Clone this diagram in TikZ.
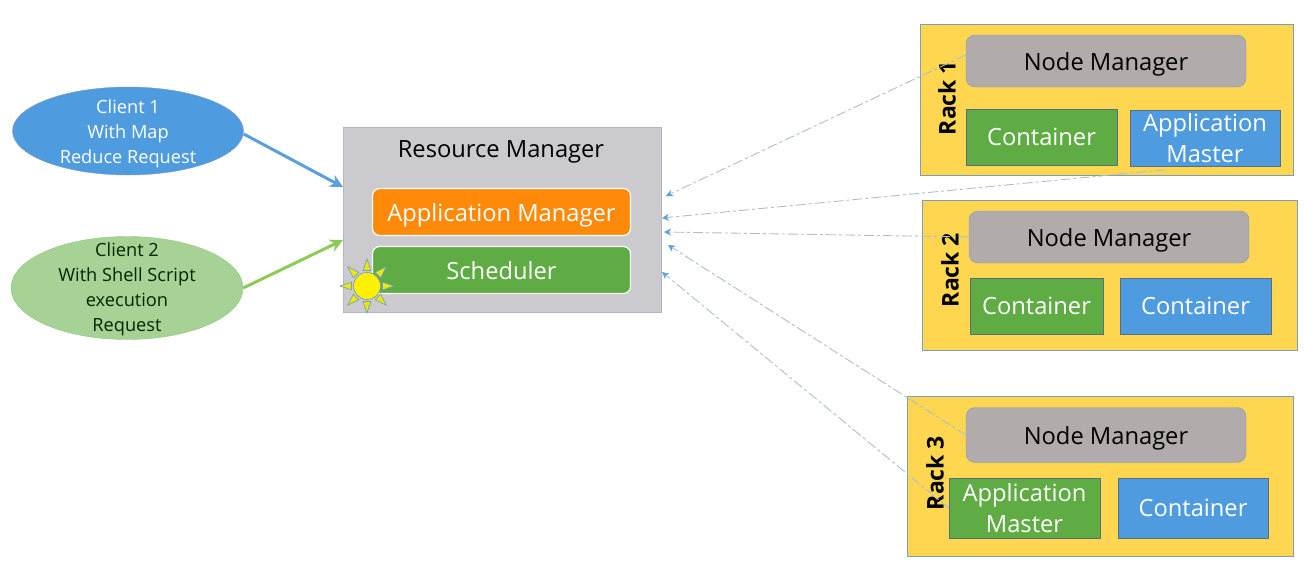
\documentclass[tikz,border=0pt]{standalone}
\usepackage{fontspec}
\setmainfont{Open Sans}
\usepackage{xcolor}
\usetikzlibrary{arrows.meta,positioning,shapes.geometric}
\definecolor{rackyellow}{HTML}{FFD650}
\definecolor{nodegrey}{HTML}{B1ABAB}
\definecolor{boxgreen}{HTML}{5FAB44}
\definecolor{boxblue}{HTML}{4F9BE0}
\definecolor{mgrorange}{HTML}{FF8A0A}
\definecolor{rmgrey}{HTML}{CBCACE}
\definecolor{clientgreen}{HTML}{A6D395}
\definecolor{edgeblue}{HTML}{7F9DB8}
\definecolor{linkgreen}{HTML}{8CCB57}
\definecolor{linkblue}{HTML}{5BA0DC}

\begin{document}
\begin{tikzpicture}[
  x=1pt, y=-1pt,
  rack/.style={rectangle, draw=edgeblue, fill=rackyellow, inner sep=0pt, line width=0.8pt},
  nodemgr/.style={rectangle, rounded corners=9pt, draw=edgeblue, fill=nodegrey, inner sep=0pt,
    minimum width=280pt, minimum height=52pt, text depth=0pt, font=\fontsize{23.7}{27}\selectfont},
  slot/.style={rectangle, draw=edgeblue!70!black, line width=0.6pt, inner sep=0pt, text=white, align=center,
    font=\fontsize{23.7}{31}\selectfont},
  slotgreen/.style={slot, fill=boxgreen},
  slotblue/.style={slot, fill=boxblue},
  racklabel/.style={rotate=90, font=\fontsize{23}{26}\selectfont\bfseries},
  mgrbox/.style={rectangle, rounded corners=7pt, draw=white, line width=1.2pt, inner sep=0pt,
    minimum width=258pt, minimum height=47pt, text=white, text depth=0pt, font=\fontsize{23.7}{27}\selectfont},
  client/.style={ellipse, inner sep=0pt},
  clienttext/.style={align=center, inner sep=0pt, font=\fontsize{18.2}{25}\selectfont},
  request/.style={-{Stealth[length=13pt,width=13pt]}, line width=3pt},
  heartbeat/.style={-{Stealth[length=7pt,width=7pt,color=linkblue]}, draw=edgeblue!65, line width=0.9pt,
    dash pattern=on 10pt off 3pt on 3pt off 3pt}
]
\useasboundingbox (0,0) rectangle (1305,581);

% clients
\node[client, fill=boxblue, draw=edgeblue, minimum width=231pt, minimum height=88pt, label={[clienttext, text=white, yshift=-3pt]center:{Client 1\\With Map\\Reduce Request}}] (C1) at (128,131) {};
\node[client, fill=clientgreen, draw=boxgreen!70, minimum width=232pt, minimum height=103pt, label={[clienttext, text=black!85!green, yshift=-1.5pt]center:{Client 2\\With Shell Script\\execution\\Request}}] (C2) at (127,288) {};

% resource manager
\node[rectangle, fill=rmgrey, draw=rmgrey!90!black, inner sep=0pt, minimum width=318pt, minimum height=185pt] (RM) at (502,219.5) {};
\node[text depth=0pt, font=\fontsize{23.7}{27}\selectfont] (RMtitle) at (501,149) {Resource Manager};
\node[mgrbox, fill=mgrorange] (AppMgr) at (501.5,212) {Application Manager};
\node[mgrbox, fill=boxgreen] (Sched) at (501.5,270) {Scheduler};

% sun
\foreach \a in {0,45,...,315}{
  \fill[yellow!90!green, draw=edgeblue, line width=0.7pt] ([shift={(\a+14:16)}]367,286) -- ([shift={(\a:27)}]367,286) -- ([shift={(\a-14:16)}]367,286) -- cycle;
}
\node[circle, fill=yellow, draw=edgeblue, line width=0.7pt, inner sep=0pt, minimum size=27pt] (Sun) at (367,286) {};

% rack 1
\node[rack, minimum width=373pt, minimum height=151pt] (R1) at (1106.5,99.5) {};
\node[nodemgr] (NM1) at (1106,61) {Node Manager};
\node[slotgreen, minimum width=151pt, minimum height=56pt] (C11) at (1041.5,137) {Container};
\node[slotblue, minimum width=150pt, minimum height=56pt] (AM1) at (1205,138.5) {Application\\Master};
\node[racklabel] (L1) at (947,98) {Rack 1};

% rack 2
\node[rack, minimum width=375pt, minimum height=150pt] (R2) at (1109.5,275) {};
\node[nodemgr] (NM2) at (1109,237) {Node Manager};
\node[slotgreen, minimum width=133pt, minimum height=56pt] (C21) at (1036.5,306) {Container};
\node[slotblue, minimum width=151pt, minimum height=56pt] (C22) at (1195.5,306) {Container};
\node[racklabel] (L2) at (950,270) {Rack 2};

% rack 3
\node[rack, minimum width=386pt, minimum height=160pt] (R3) at (1100,476) {};
\node[nodemgr, minimum height=55pt] (NM3) at (1106,435) {Node Manager};
\node[slotgreen, minimum width=151pt, minimum height=60pt] (AM3) at (1024.5,508) {Application\\Master};
\node[slotblue, minimum width=150pt, minimum height=60pt] (C32) at (1193,508) {Container};
\node[racklabel] (L3) at (935,473) {Rack 3};

% arrow ends
\coordinate (in1) at (343,187);
\coordinate (in2) at (343,240);
\coordinate (hb1) at (666,196);
\coordinate (hb2) at (662,218);
\coordinate (hb3) at (664,232);
\coordinate (hb4) at (668,245);
\coordinate (hb5) at (662,272);

% arrows
\draw[request, linkblue] (C1.east) ++(0,3) -- (in1);
\draw[request, linkgreen] (C2.east) -- (in2);
\draw[heartbeat] (NM1.west) ++(0,-6) -- (hb1);
\draw[heartbeat] (AM1.south) ++(-40,3) -- (hb2);
\draw[heartbeat] (NM2.west) -- (hb3);
\draw[heartbeat] (NM3.west) -- (hb4);
\draw[heartbeat] (AM3.west) -- (hb5);

\end{tikzpicture}
\end{document}
